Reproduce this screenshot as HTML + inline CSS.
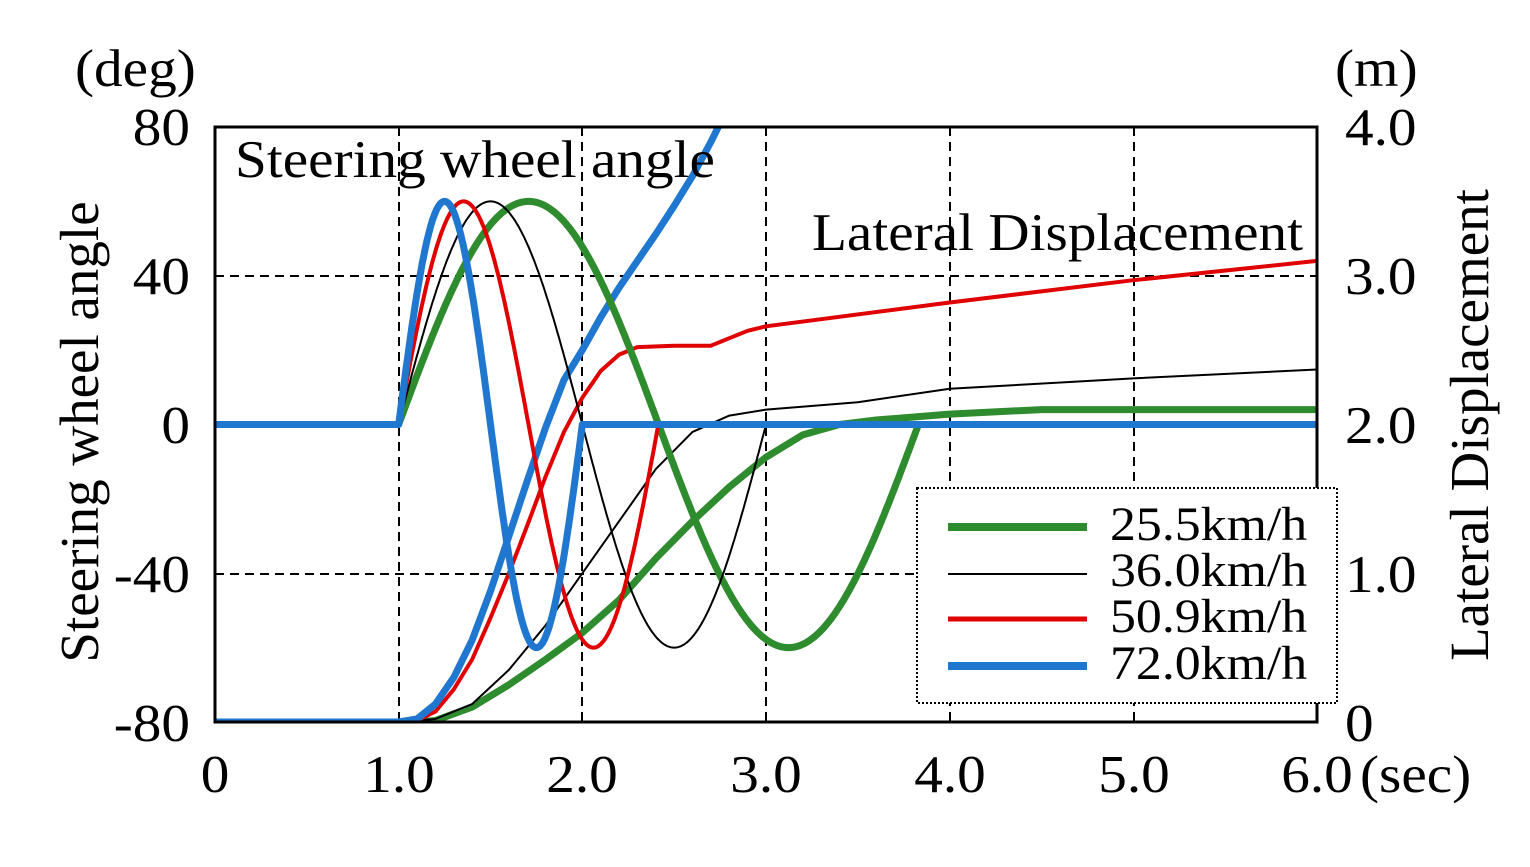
<!DOCTYPE html>
<html><head><meta charset="utf-8"><style>
body{margin:0;background:#fff}
svg text{font-family:"Liberation Serif",serif;fill:#000}
</style></head><body>
<svg id="s" width="1530" height="862" viewBox="0 0 1530 862" xmlns="http://www.w3.org/2000/svg">
<defs><clipPath id="c"><rect x="215" y="127" width="1102" height="595"/></clipPath></defs>
<rect width="1530" height="862" fill="#fff"/>
<g stroke="#000" stroke-width="2" stroke-dasharray="9,6" fill="none">
<line x1="399" y1="127" x2="399" y2="722"/><line x1="582" y1="127" x2="582" y2="722"/>
<line x1="766" y1="127" x2="766" y2="722"/><line x1="950" y1="127" x2="950" y2="722"/>
<line x1="1134" y1="127" x2="1134" y2="722"/>
<line x1="215" y1="276" x2="1317" y2="276"/><line x1="215" y1="574" x2="1317" y2="574"/>
</g>
<g id="series" clip-path="url(#c)" fill="none" stroke-linejoin="round"></g>
<rect x="215" y="127" width="1102" height="595" fill="none" stroke="#000" stroke-width="3"/>
<g>
<rect x="917" y="488" width="420" height="215" fill="#fff" stroke="#000" stroke-width="2" stroke-dasharray="2,2"/>
<line x1="948" y1="527" x2="1087" y2="527" stroke="#2e8b2e" stroke-width="8"/>
<line x1="948" y1="574" x2="1087" y2="574" stroke="#000" stroke-width="2"/>
<line x1="948" y1="619" x2="1087" y2="619" stroke="#e00000" stroke-width="5"/>
<line x1="948" y1="666" x2="1087" y2="666" stroke="#1f77d0" stroke-width="8"/>
</g>
<g id="labels" font-size="53"></g>
<text transform="translate(98,432) rotate(-90)" text-anchor="middle" font-size="55">Steering wheel angle</text>
<text transform="translate(1488,425) rotate(-90)" text-anchor="middle" font-size="55">Lateral Displacement</text>
</svg>
<script>
var L=document.getElementById("labels"),lh="";
function T(x,y,s,a,fs){lh+='<g transform="translate('+x+','+y+') scale(1.08,1)"><text text-anchor="'+(a||"start")+'"'+(fs?' font-size="'+fs+'"':'')+'>'+s+'</text></g>';}
T(75,86,"(deg)");T(1335,86,"(m)");
[["80",145],["40",294],["0",443],["-40",592],["-80",741]].forEach(v=>T(190,v[1],v[0],"end"));
[["4.0",145],["3.0",294],["2.0",443],["1.0",592],["0",741]].forEach(v=>T(1345,v[1],v[0]));
[[215,"0"],[399,"1.0"],[582,"2.0"],[766,"3.0"],[950,"4.0"],[1134,"5.0"],[1317,"6.0"]].forEach(v=>T(v[0],792,v[1],"middle"));
T(1360,792,"(sec)");
T(235,177,"Steering wheel angle");
T(1303,250,"Lateral Displacement","end");
T(1110,540,"25.5km/h",0,48);T(1110,586,"36.0km/h",0,48);T(1110,632,"50.9km/h",0,48);T(1110,679,"72.0km/h",0,48);
L.innerHTML=lh;
var X=t=>215+t*183.67, YA=a=>424.5-a*148.75/40, YM=m=>722-m*148.75;
function steer(P){var p=[];for(var t=0;t<=6.0001;t+=0.005){var a=(t>1&&t<1+P)?60*Math.sin(2*Math.PI*(t-1)/P):0;p.push(X(t).toFixed(1)+","+YA(a).toFixed(1));}return p.join(" ");}
function lat(pts){var p=[X(0)+","+YM(0)];pts.forEach(q=>p.push(X(q[0]).toFixed(1)+","+YM(q[1]).toFixed(1)));return p.join(" ");}
var G=[[1.1,0],[1.2,0.01],[1.4,0.1],[1.6,0.25],[1.8,0.42],[2.0,0.6],[2.2,0.82],[2.4,1.1],[2.6,1.35],[2.8,1.58],[3.0,1.78],[3.2,1.93],[3.4,2.0],[3.6,2.03],[4,2.07],[4.5,2.1],[6,2.1]];
var K=[[1.0,0],[1.2,0.02],[1.4,0.12],[1.6,0.35],[1.8,0.65],[2.0,1.0],[2.2,1.35],[2.4,1.7],[2.6,1.95],[2.8,2.06],[3.0,2.1],[3.5,2.15],[4,2.24],[5,2.31],[6,2.37]];
var R=[[1.0,0],[1.1,0.01],[1.2,0.07],[1.3,0.22],[1.4,0.42],[1.5,0.7],[1.6,1.0],[1.7,1.32],[1.8,1.65],[1.9,1.95],[2.0,2.18],[2.1,2.36],[2.2,2.47],[2.3,2.52],[2.5,2.53],[2.7,2.53],[2.8,2.58],[2.9,2.63],[3.0,2.66],[4,2.82],[5,2.97],[6,3.1]];
var B=[[1.0,0],[1.1,0.02],[1.2,0.12],[1.3,0.3],[1.4,0.55],[1.5,0.88],[1.6,1.25],[1.7,1.62],[1.8,1.98],[1.9,2.3],[2.0,2.5],[2.1,2.72],[2.2,2.92],[2.3,3.1],[2.4,3.28],[2.5,3.47],[2.6,3.67],[2.7,3.9],[2.8,4.15]];
var s=[["#2e8b2e",7,lat(G)],["#000",2,lat(K)],["#e00000",4,lat(R)],["#1f77d0",7,lat(B)],
["#2e8b2e",7,steer(2.83)],["#000",2,steer(2.0)],["#e00000",4,steer(1.414)],["#1f77d0",7,steer(1.0)]];
var g=document.getElementById("series"),h="";
s.forEach(x=>h+='<polyline points="'+x[2]+'" stroke="'+x[0]+'" stroke-width="'+x[1]+'"/>');
g.innerHTML=h;
</script>
</body></html>
